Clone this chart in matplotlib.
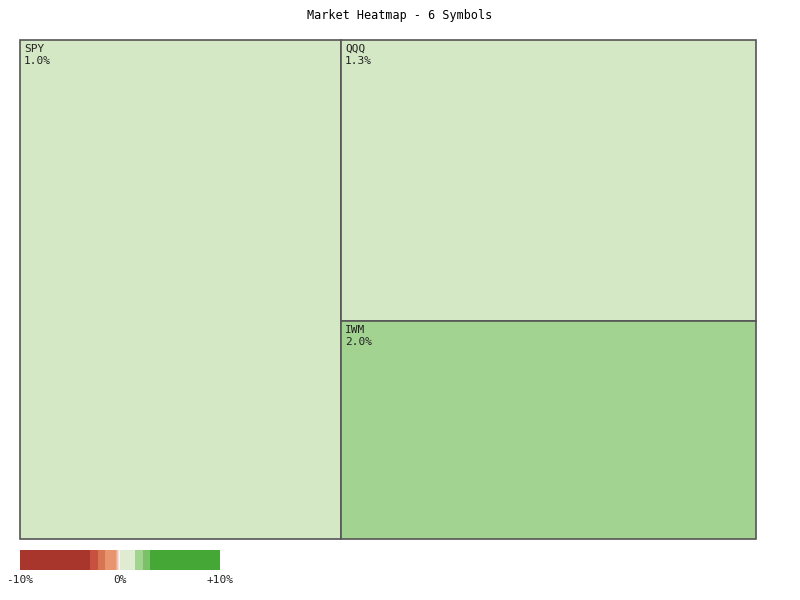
import numpy as np
import matplotlib.pyplot as plt
from matplotlib.patches import Rectangle

symbols = ["SPY", "QQQ", "IWM"]
weights = [160.2, 116.6, 90.5]
changes = [1.0, 1.3, 2.0]

# legend bar segments: (start %, end %, colour)
bar_stops = [-10, -3, -2.2, -1.5, -0.5, 0, 1.5, 2.3, 3, 10]
bar_colors = ["#a8362c", "#c8503f", "#d77552", "#e8956e", None,
              "#e0ecd2", "#a3d391", "#7bc168", "#45a736"]


def color_for(v):
    if v >= 3: return "#45a736"
    if v >= 2.3: return "#7bc168"
    if v >= 1.5: return "#a3d391"
    if v >= 0: return "#d5e8c5"
    if v >= -1.5: return "#e8956e"
    if v >= -2.2: return "#d77552"
    if v >= -3: return "#c8503f"
    return "#a8362c"


fig = plt.figure(figsize=(8, 6), dpi=100)
ax = fig.add_axes([0, 0, 1, 1])
ax.set_xlim(0, 800)
ax.set_ylim(600, 0)
ax.axis("off")

fig.text(0.5, 1 - 16 / 600, "Market Heatmap - 6 Symbols", ha="center", va="center",
         family="DejaVu Sans Mono", fontsize=8.5)

# simple slice layout: first item full-height column, rest stacked
x0, y0, x1, y1 = 20, 40, 756, 539
total = sum(weights)
w0 = (x1 - x0) * weights[0] / total
rects = [(x0, y0, w0, y1 - y0)]
rest = sum(weights[1:])
yy = y0
for w in weights[1:]:
    h = (y1 - y0) * w / rest
    rects.append((x0 + w0, yy, x1 - x0 - w0, h))
    yy += h

for (rx, ry, rw, rh), s, c in zip(rects, symbols, changes):
    ax.add_patch(Rectangle((rx, ry), rw, rh, facecolor=color_for(c),
                           edgecolor="#555555", linewidth=1.2))
    ax.text(rx + 4, ry + 4, f"{s}\n{c:.1f}%", ha="left", va="top",
            family="DejaVu Sans Mono", fontsize=8, color="#222222", linespacing=1.3)

# colour legend
px = lambda v: 20 + (v + 10) * 10
for i, col in enumerate(bar_colors):
    a, b = bar_stops[i], bar_stops[i + 1]
    if col is None:
        for t in np.linspace(0, 1, 10):
            c1 = np.array([0xe8, 0x95, 0x6e]) / 255
            c2 = np.array([1, 1, 1])
            cc = c1 * (1 - t) + c2 * t
            ax.add_patch(Rectangle((px(a) + t * (px(b) - px(a)), 550),
                                   (px(b) - px(a)) / 10 + 0.5, 20, facecolor=cc, lw=0))
    else:
        ax.add_patch(Rectangle((px(a), 550), px(b) - px(a), 20, facecolor=col, lw=0))
for v, lab in [(-10, "-10%"), (0, "0%"), (10, "+10%")]:
    ax.text(px(v) + (0 if v else 0), 580, lab, ha="center", va="center",
            family="DejaVu Sans Mono", fontsize=8, color="#222222")

fig.savefig("out.png")
